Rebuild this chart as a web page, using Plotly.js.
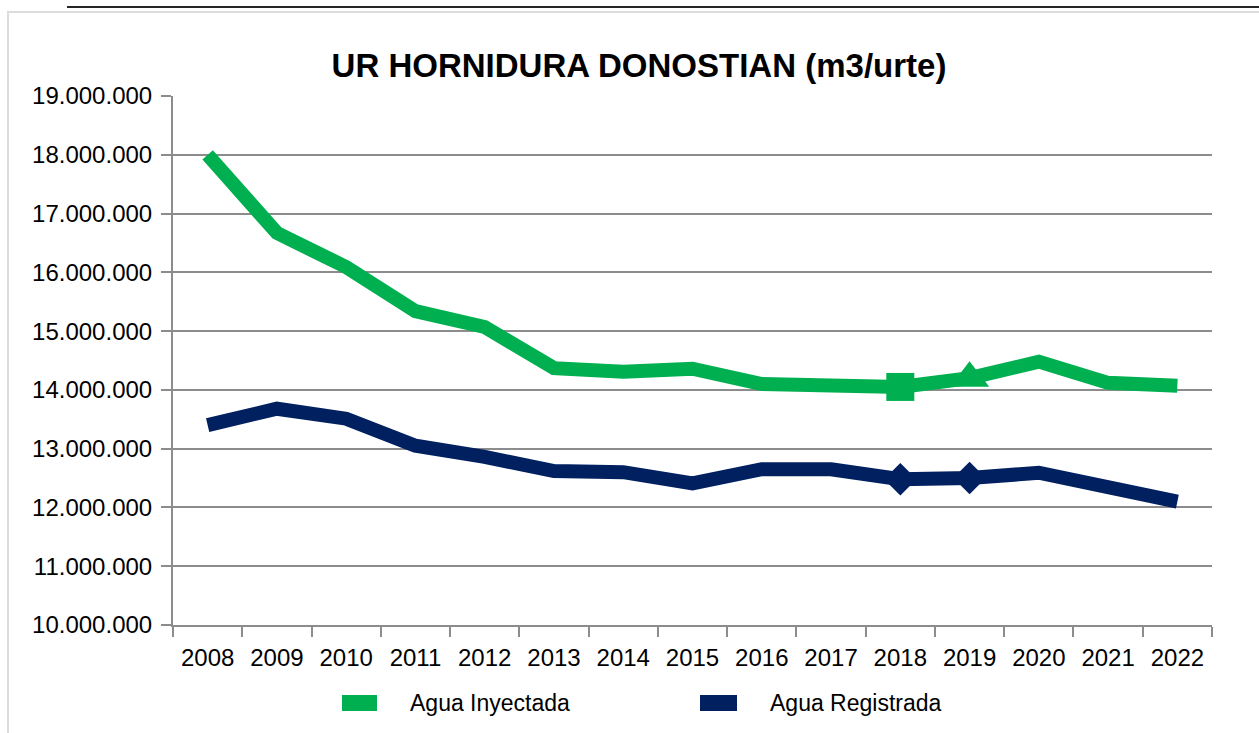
<!DOCTYPE html>
<html>
<head>
<meta charset="utf-8">
<script src="https://cdn.plot.ly/plotly-3.0.1.min.js"></script>
<style>
  html, body { margin: 0; padding: 0; background: #ffffff; overflow: hidden; }
  #wrap { position: relative; width: 1259px; height: 733px; }
  #chart { position: absolute; left: 0; top: 0; width: 1259px; height: 733px; }
  #topline { position: absolute; left: 67px; top: 6px; width: 1192px; height: 2px; background: #262626; z-index: 2; }
  #frame { position: absolute; left: 7px; top: 11px; width: 1260px; height: 730px; border: 2px solid #dcdcdc; box-sizing: border-box; z-index: 2; pointer-events: none; }
</style>
</head>
<body>
<div id="wrap">
  <div id="chart"></div>
  <div id="topline"></div>
  <div id="frame"></div>
</div>
<script>
const years = ["2008","2009","2010","2011","2012","2013","2014","2015","2016","2017","2018","2019","2020","2021","2022"];
const seriesNames = ["Agua Inyectada", "Agua Registrada"];
const aguaInyectada = [18000000, 16670000, 16090000, 15340000, 15070000, 14370000, 14310000, 14360000, 14100000, 14050000, 14050000, 14200000, 14480000, 14120000, 14070000];
const aguaRegistrada = [13400000, 13680000, 13510000, 13050000, 12860000, 12620000, 12600000, 12410000, 12650000, 12650000, 12480000, 12500000, 12590000, 12350000, 12100000];
const yTicks = [10000000, 11000000, 12000000, 13000000, 14000000, 15000000, 16000000, 17000000, 18000000, 19000000];

const GREEN = "#00b050";
const NAVY = "#002060";
const FONT = "Liberation Sans, Arial, sans-serif";

// plot area in pixels (for placing the legend outside the axes)
const PL = 173, PR = 1212, PT = 96, PB = 625;
const px = v => (v - PL) / (PR - PL);
const py = v => (PB - v) / (PB - PT);

const traces = [
  { type: "scatter", mode: "lines", name: seriesNames[0], x: years, y: aguaInyectada,
    line: { color: GREEN, width: 14 }, showlegend: false },
  { type: "scatter", mode: "lines", name: seriesNames[1], x: years, y: aguaRegistrada,
    line: { color: NAVY, width: 14 }, showlegend: false },
  { type: "scatter", mode: "markers", showlegend: false, x: [years[10]], y: [aguaInyectada[10]],
    marker: { symbol: "square", size: 28, color: GREEN } },
  { type: "scatter", mode: "markers", showlegend: false, x: [years[11]], y: [aguaInyectada[11]],
    marker: { symbol: "triangle-up", size: 34, color: GREEN } },
  { type: "scatter", mode: "markers", showlegend: false, x: [years[10], years[11]], y: [aguaRegistrada[10], aguaRegistrada[11]],
    marker: { symbol: "diamond", size: 25, color: NAVY } }
];

const legendItems = [
  { name: seriesNames[0], color: GREEN, x0: 342, x1: 377, tx: 408 },
  { name: seriesNames[1], color: NAVY, x0: 700, x1: 737, tx: 768 }
];
const shapes = legendItems.map(it => ({
  type: "rect", xref: "paper", yref: "paper",
  x0: px(it.x0), x1: px(it.x1), y0: py(711), y1: py(695),
  fillcolor: it.color, line: { width: 0 }
}));
const annotations = legendItems.map(it => ({
  xref: "paper", yref: "paper", x: px(it.tx), y: py(703), xanchor: "left", yanchor: "middle",
  text: it.name, showarrow: false, font: { family: FONT, size: 23, color: "#000000" }
}));

const layout = {
  width: 1259, height: 733,
  margin: { l: PL, r: 1259 - PR, t: PT, b: 733 - PB },
  paper_bgcolor: "#ffffff", plot_bgcolor: "#ffffff",
  separators: ",.",
  font: { family: FONT, size: 24, color: "#000000" },
  title: { text: "<b>UR HORNIDURA DONOSTIAN (m3/urte)</b>", font: { family: FONT, size: 33, color: "#000000" },
    x: 639/1259, xanchor: "center", xref: "container", y: 1 - 65/733, yanchor: "middle", yref: "container" },
  xaxis: { type: "category", range: [-0.5, 14.5], showgrid: false, zeroline: false,
    showline: true, linecolor: "#8c8c8c", linewidth: 2,
    ticks: "outside", ticklen: 10, tickwidth: 2, tickcolor: "#8c8c8c", tickson: "boundaries",
    ticklabelstandoff: 10,
    tickfont: { family: FONT, size: 24, color: "#000000" } },
  yaxis: { range: [10000000, 19000000], tickvals: yTicks, tickformat: ",d",
    showgrid: true, gridcolor: "#8c8c8c", gridwidth: 2, zeroline: false,
    showline: true, linecolor: "#8c8c8c", linewidth: 2,
    ticks: "outside", ticklen: 10, tickwidth: 2, tickcolor: "#8c8c8c",
    ticklabelstandoff: 4,
    tickfont: { family: FONT, size: 24, color: "#000000" } },
  showlegend: false,
  shapes: shapes,
  annotations: annotations,
  hovermode: false
};

Plotly.newPlot("chart", traces, layout, { displayModeBar: false, staticPlot: true });
</script>
</body>
</html>
